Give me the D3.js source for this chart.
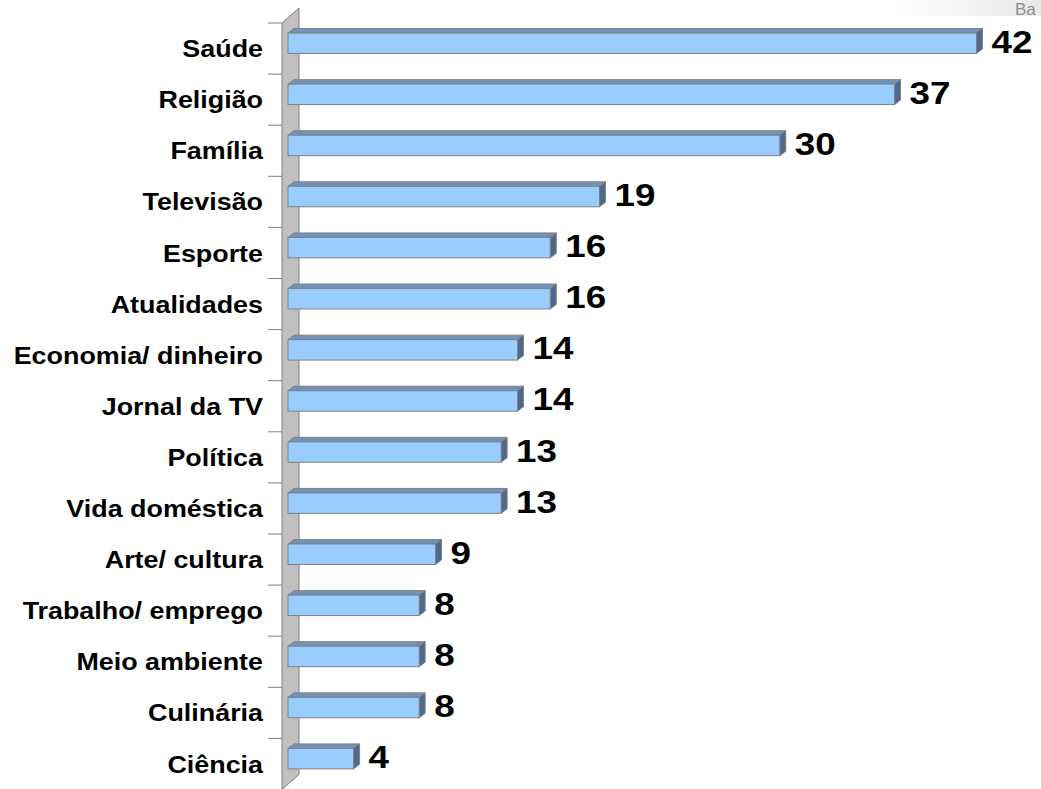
<!DOCTYPE html>
<html>
<head>
<meta charset="utf-8">
<script src="https://cdn.jsdelivr.net/npm/d3@7"></script>
<style>
  html, body { margin: 0; padding: 0; background: #fff; overflow: hidden; }
  svg { display: block; font-family: "Liberation Sans", Arial, sans-serif; }
</style>
</head>
<body>
<svg id="chart" width="1041" height="789"></svg>
<script>
const categories = ["Saúde", "Religião", "Família", "Televisão", "Esporte", "Atualidades",
  "Economia/ dinheiro", "Jornal da TV", "Política", "Vida doméstica", "Arte/ cultura",
  "Trabalho/ emprego", "Meio ambiente", "Culinária", "Ciência"];
const values = [42, 37, 30, 19, 16, 16, 14, 14, 13, 13, 9, 8, 8, 8, 4];
const cornerText = "Ba";

const W = 1041, H = 789;
const svg = d3.select("#chart");

// geometry
const frontTop = 23, frontBottom = 789.5;
const wallDX = 17, wallDY = 15;          // depth of the floor/wall
const barShiftX = 6, barShiftY = 5.3;    // bars sit this far back in depth
const dx = 6, dy = 4.5;                  // bar depth
const x = d3.scaleLinear().domain([0, 42]).range([288, 976.5]);
const y = d3.scaleBand().domain(categories).range([frontTop, frontBottom])
  .paddingInner(0.6).paddingOuter(0.3);
const step = y.step();
const x0front = x(0) - barShiftX;

// header gradient strip
const defs = svg.append("defs");
const g1 = defs.append("linearGradient").attr("id", "hdr").attr("x1", 0).attr("x2", 1).attr("y1", 0).attr("y2", 0);
g1.append("stop").attr("offset", 0).attr("stop-color", "#ffffff");
g1.append("stop").attr("offset", 1).attr("stop-color", "#e8e8e8");
svg.append("rect").attr("x", 895).attr("y", 0).attr("width", W - 895).attr("height", 16).attr("fill", "url(#hdr)");
svg.append("text").attr("x", 1015).attr("y", 15).attr("font-size", 17).attr("fill", "#8c8c8c").text(cornerText);

// wall (floor of value axis)
svg.append("polygon")
  .attr("points", [[x0front, frontTop], [x0front + wallDX, frontTop - wallDY],
    [x0front + wallDX, frontBottom - wallDY], [x0front, frontBottom]].map(p => p.join(",")).join(" "))
  .attr("fill", "#c0c0c0").attr("stroke", "#808080").attr("stroke-width", 1);

// category ticks
const bounds = d3.range(categories.length + 1).map(i => frontTop + i * step);
svg.append("g").selectAll("line").data(bounds).join("line")
  .attr("x1", x0front - 14).attr("x2", x0front)
  .attr("y1", d => d).attr("y2", d => d)
  .attr("stroke", "#808080").attr("stroke-width", 1);

// category labels
svg.append("g").selectAll("text").data(categories).join("text")
  .attr("transform", d => `translate(263,${y(d) + y.bandwidth() / 2 + 8.6}) scale(1.12,1)`)
  .attr("text-anchor", "end")
  .attr("font-size", 24).attr("font-weight", "bold").attr("fill", "#000")
  .text(d => d);

// bars
const data = categories.map((c, i) => ({ c, v: values[i] }));
const bars = svg.append("g").selectAll("g").data(data).join("g");
const by = d => y(d.c) - barShiftY;
const bh = y.bandwidth();
bars.append("polygon") // top face
  .attr("points", d => {
    const xa = x(0), xb = x(d.v), t = by(d);
    return [[xa, t], [xa + dx, t - dy], [xb + dx, t - dy], [xb, t]].map(p => p.join(",")).join(" ");
  })
  .attr("fill", "#6f93bd").attr("stroke", "#808080").attr("stroke-width", 1).attr("stroke-linejoin", "round");
bars.append("polygon") // side face
  .attr("points", d => {
    const xb = x(d.v), t = by(d);
    return [[xb, t], [xb + dx, t - dy], [xb + dx, t + bh - dy], [xb, t + bh]].map(p => p.join(",")).join(" ");
  })
  .attr("fill", "#4d6a8e").attr("stroke", "#808080").attr("stroke-width", 1).attr("stroke-linejoin", "round");
bars.append("rect") // front face
  .attr("x", x(0)).attr("y", d => by(d))
  .attr("width", d => x(d.v) - x(0)).attr("height", bh)
  .attr("fill", "#99ccff").attr("stroke", "#808080").attr("stroke-width", 1);

// value labels
bars.append("text")
  .attr("transform", d => `translate(${x(d.v) + dx + 9},${by(d) + bh / 2 + 9.5}) scale(1.15,1)`)
  .attr("font-size", 32).attr("font-weight", "bold").attr("fill", "#000")
  .text(d => d.v);
</script>
</body>
</html>
